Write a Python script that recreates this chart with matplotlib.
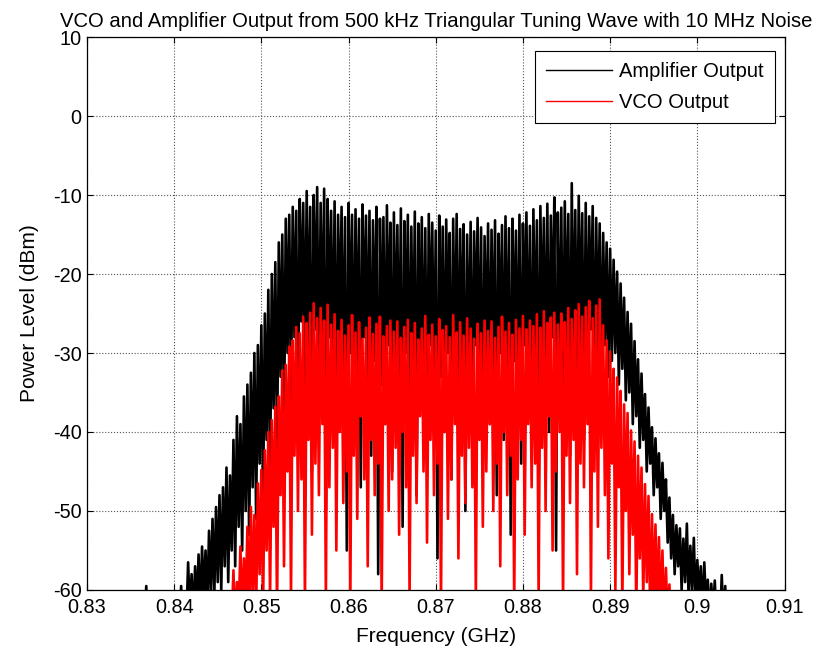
import numpy as np
import matplotlib
matplotlib.use("Agg")
import matplotlib.pyplot as plt

plt.rcParams['font.family'] = ['Liberation Sans', 'DejaVu Sans']
plt.rcParams['axes.unicode_minus'] = False

# Spectrum samples: peak levels at f0 + k*step, trough levels half a step later (dBm)
step = 0.0004

amp_f0 = 0.8364
amp_peaks = [
    -62, -59.5, -62, -63, -62, -63, -62, -63, -61, -62,
    -60.5, -59.5, -61, -56.5, -58, -57, -55.5, -54.5, -55, -52.5,
    -51, -49.5, -48, -47, -44.5, -45.5, -41, -38, -39, -35.5,
    -34, -32.5, -30, -29, -26.5, -25, -22, -20, -18.5, -16,
    -15, -13, -12.5, -11.5, -12, -10.5, -11, -9.5, -11.5, -10,
    -9, -11, -9.2, -10.5, -12, -10.8, -12.5, -11.5, -12.8, -11,
    -12.5, -11.8, -13, -11.2, -12.6, -12, -13.2, -11.5, -13, -12.8,
    -11.3, -13.5, -12.2, -13.8, -11.7, -13.3, -12.5, -14, -12.1, -13.6,
    -12.8, -14.2, -12.4, -13.5, -14.5, -12.6, -14, -13.1, -14.8, -13,
    -12.4, -14.3, -13.7, -15, -13.4, -14.6, -12.9, -14.1, -15.2, -13.6,
    -14.4, -13.2, -14.9, -13.8, -12.7, -14.2, -13, -14.5, -12.5, -13.6,
    -12.2, -13.9, -11.8, -13.2, -11.4, -12.9, -11.1, -12.6, -10.3, -12.2,
    -11.6, -10.8, -12.4, -8.5, -11.9, -10.1, -12.3, -11, -12.7, -11.4,
    -12.9, -13.6, -14.8, -16, -16.8, -18.2, -19.7, -21.2, -23, -24.8,
    -26.3, -28.5, -30.8, -32.6, -35.2, -36.9, -39.4, -40.8, -42.7, -43.9,
    -46, -48.3, -50.5, -51.8, -52.2, -53.5, -51.6, -54.4, -53.4, -56.2,
    -57, -56.5, -58.7, -59.2, -58.8, -61, -58.1, -59.5, -62, -61,
    -63, -64,
]
amp_troughs = [
    -64, -65, -64, -65, -64, -65, -64, -65, -64, -65,
    -64, -65, -64, -63, -64, -62, -63, -61, -62, -60.5,
    -61, -59, -60, -57, -59, -55, -57, -52, -55, -50,
    -53, -47, -51, -44, -49, -41, -46, -37, -43, -33,
    -40, -30, -36, -28, -41, -26, -34, -30, -45, -27,
    -38, -31, -50, -28, -35, -42, -29, -37, -55, -30,
    -40, -33, -47, -28, -36, -43, -31, -58, -34, -39,
    -29, -45, -32, -37, -52, -30, -41, -35, -48, -31,
    -38, -44, -29, -36, -56, -33, -40, -30, -46, -34,
    -39, -31, -50, -35, -42, -29, -37, -45, -32, -39,
    -33, -48, -30, -41, -36, -53, -31, -38, -44, -29,
    -35, -42, -32, -47, -30, -37, -40, -28, -55, -33,
    -39, -30, -43, -31, -36, -29, -41, -34, -27, -38,
    -30, -35, -29, -33, -31, -30, -34, -32, -36, -35,
    -39, -38, -42, -41, -45, -44, -48, -47, -51, -50,
    -54, -56, -58, -57, -60, -59, -61, -60, -62, -61,
    -63, -62, -64, -63, -64, -65, -64, -65, -64, -65,
    -65, -65,
]

vco_f0 = 0.8460
vco_peaks = [
    -63, -61, -57.5, -59, -54.5, -56, -52, -49.5, -50.5, -46.5,
    -44.8, -42.3, -40, -38.5, -36.8, -35.5, -32.2, -31.5, -29.2, -28.4,
    -26.7, -27.5, -25.4, -26.2, -24.9, -23.7, -25.6, -24.3, -25.9, -23.9,
    -26.4, -25.1, -27.2, -25.8, -27.8, -26.5, -25.2, -27.4, -26.1, -28.2,
    -26.8, -25.5, -27.6, -26.3, -25.4, -27.9, -26.6, -25.9, -27.3, -26.0,
    -28.1, -26.7, -25.8, -27.5, -26.2, -28.3, -26.9, -25.3, -27.7, -26.4,
    -27.9, -25.7, -27.1, -26.6, -28.0, -25.2, -27.4, -26.1, -27.8, -25.6,
    -26.9, -28.2, -26.3, -27.5, -25.9, -27.2, -26.0, -28.1, -26.7, -25.4,
    -27.3, -26.2, -27.7, -25.8, -26.9, -25.3, -27.0, -25.9, -26.6, -25.1,
    -26.8, -24.7, -26.2, -25.5, -24.9, -26.4, -25.0, -26.1, -24.3, -25.7,
    -24.6, -23.8, -25.4, -24.2, -23.4, -25.6, -24.0, -23.2, -26.5, -28.4,
    -29.8, -32.0, -33.1, -34.8, -36.5, -37.6, -39.8, -41.2, -43.0, -44.5,
    -46.6, -48.1, -50.4, -51.7, -53.3, -55.0, -57.2, -59.3, -61, -63,
]
vco_troughs = [
    -65, -64, -65, -63, -64, -62, -64, -61, -63, -58,
    -62, -55, -61, -52, -63, -48, -57, -45, -61, -43,
    -50, -46, -62, -41, -53, -44, -48, -39, -61, -47,
    -42, -55, -40, -49, -45, -62, -43, -51, -38, -46,
    -57, -41, -48, -44, -62, -39, -50, -46, -42, -53,
    -40, -47, -61, -43, -49, -38, -45, -54, -41, -48,
    -44, -62, -40, -51, -46, -39, -56, -43, -49, -42,
    -47, -61, -41, -52, -45, -39, -50, -44, -57, -40,
    -48, -43, -62, -46, -41, -53, -39, -47, -44, -61,
    -42, -50, -38, -55, -45, -40, -62, -43, -49, -41,
    -58, -44, -47, -39, -61, -45, -52, -42, -48, -56,
    -44, -60, -47, -62, -50, -58, -53, -63, -56, -61,
    -59, -64, -62, -63, -64, -65, -64, -65, -65, -65,
]


def trace(f0, peaks, troughs):
    """Interleave peak and trough samples into one frequency-ordered trace."""
    n = len(peaks)
    f_pk = f0 + step * np.arange(n)
    f = np.column_stack([f_pk, f_pk + step / 2]).ravel()
    y = np.column_stack([peaks, troughs]).ravel()
    return f, y


amp_f, amp_y = trace(amp_f0, amp_peaks, amp_troughs)
vco_f, vco_y = trace(vco_f0, vco_peaks, vco_troughs)

fig = plt.figure(figsize=(8.22, 6.53), dpi=100)
ax = fig.add_axes([0.1058, 0.0965, 0.8486, 0.8468])

ax.plot(amp_f, amp_y, color='black', lw=1.9, label='Amplifier Output')
ax.plot(vco_f, vco_y, color='#ff0000', lw=1.9, label='VCO Output')

ax.set_xlim(0.83, 0.91)
ax.set_ylim(-60, 10)
xticks = [0.83, 0.84, 0.85, 0.86, 0.87, 0.88, 0.89, 0.9, 0.91]
ax.set_xticks(xticks)
ax.set_xticklabels(['0.83', '0.84', '0.85', '0.86', '0.87', '0.88', '0.89', '0.9', '0.91'])
ax.set_yticks(range(-60, 11, 10))

ax.grid(True, color='#555555', linestyle=':', linewidth=0.8)
ax.set_axisbelow(True)
ax.tick_params(direction='in', top=True, right=True, length=4, width=0.8,
               labelsize=14.3)
ax.tick_params(axis='x', pad=6)
ax.tick_params(axis='y', pad=4)
for s in ax.spines.values():
    s.set_linewidth(0.9)

ax.set_xlabel('Frequency (GHz)', fontsize=15, labelpad=7)
ax.set_ylabel('Power Level (dBm)', fontsize=15, labelpad=10)
ax.set_title('VCO and Amplifier Output from 500 kHz Triangular Tuning Wave with 10 MHz Noise',
             fontsize=14.6, pad=7)

leg = ax.legend(loc='upper right', bbox_to_anchor=(0.9864, 0.9747), borderaxespad=0,
                fontsize=14.5, fancybox=False, framealpha=1, edgecolor='black',
                handlelength=3.3, handletextpad=0.35, borderpad=0.55, labelspacing=0.6)
leg.get_frame().set_linewidth(0.8)
for h in leg.get_lines():
    h.set_linewidth(1.0)

fig.savefig('out.png', dpi=100)
